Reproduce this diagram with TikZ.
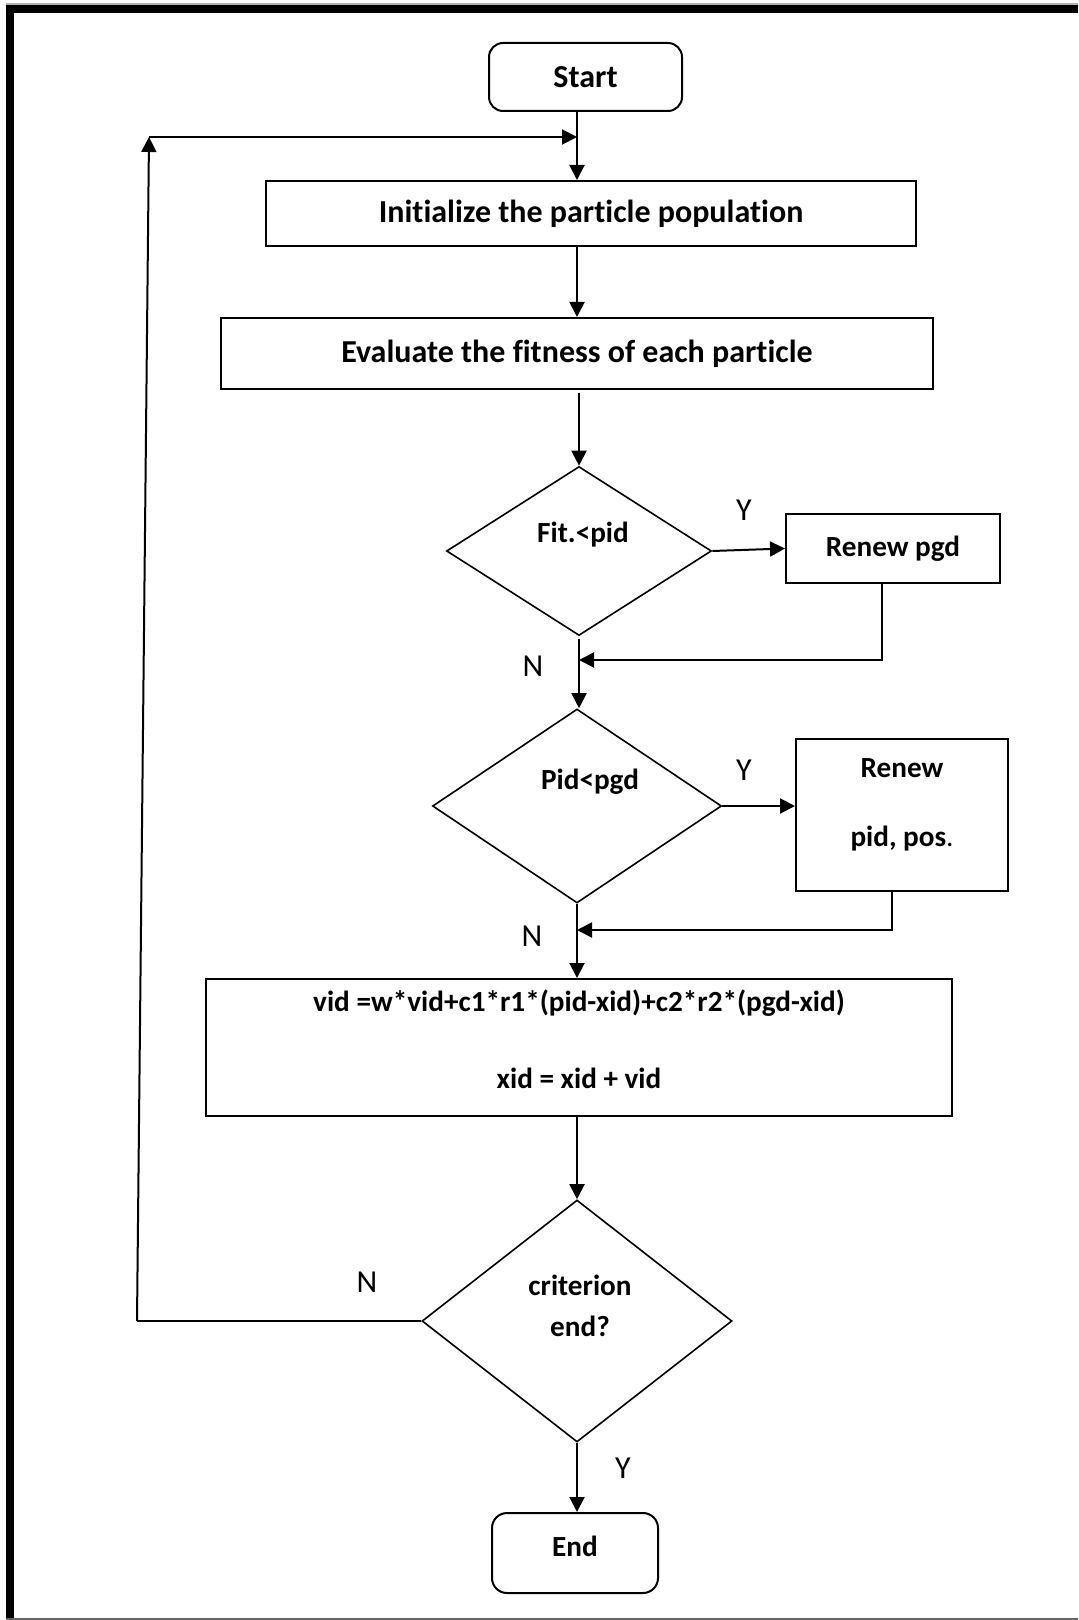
\documentclass[tikz,border=0pt]{standalone}
\usepackage{fontspec}
\setmainfont{Carlito}[Ligatures={NoCommon,NoContextual}]
\usetikzlibrary{arrows.meta,shapes.geometric}

\tikzset{
  txt/.style={font=\bfseries\fontsize{16pt}{19.2pt}\selectfont},
  txtsmall/.style={font=\bfseries\fontsize{14.6pt}{17.4pt}\selectfont},
  yn/.style={font=\fontsize{16pt}{19.2pt}\selectfont},
  box/.style={draw, line width=1pt, inner sep=0pt, txt},
  roundbox/.style={box, rounded corners=7pt},
  decision/.style={draw, diamond, line width=0.8pt, inner sep=0pt},
  line/.style={line width=1pt},
  arr/.style={line width=1pt, -{Triangle[length=7.5pt,width=7.5pt]}},
}

\begin{document}
\begin{tikzpicture}[x=0.5pt, y=-0.5pt]
    \useasboundingbox (0,0) rectangle (1078,1620);

    % frame
    \draw[black!30, line width=1pt] (6,4) -- (1078,4);
    \draw[black!60, line width=1.2pt] (6,1619) -- (1078,1619);
    \draw[line width=4pt] (10,1618) -- (10,9) -- (1078,9);

    % main column
    \node[roundbox, minimum width=96.5pt, minimum height=34pt] (start) at (585.5,77) {Start};
    \node[box, minimum width=325pt, minimum height=32.5pt] (init) at (591,213.5) {Initialize the particle population};
    \node[box, minimum width=356pt, minimum height=35.5pt] (eval) at (577,353.5) {Evaluate the fitness of each particle};
    \node[decision, minimum width=132.5pt, minimum height=84.5pt,
          label={[txtsmall, name=fit-t, xshift=2pt, yshift=8pt]center:{Fit.<pid}}] (fit) at (579,551) {};
    \node[decision, minimum width=144.5pt, minimum height=97pt,
          label={[txtsmall, name=pid-t, xshift=6.5pt, yshift=12pt]center:{Pid<pgd}}] (pid) at (577,806) {};
    \node[box, minimum width=373pt, minimum height=68.5pt,
          label={[txtsmall, name=update-t, align=center, yshift=4pt]center:{vid =w*vid+c1*r1*(pid-xid)+c2*r2*(pgd-xid)\\[21.1pt]xid = xid + vid}}] (update) at (579,1047.5) {};
    \node[decision, minimum width=155pt, minimum height=121pt,
          label={[txtsmall, name=crit-t, align=center, xshift=1.5pt, yshift=7.5pt]center:{criterion\\[3.1pt]end?}}] (crit) at (577,1321) {};
    \node[roundbox, rounded corners=7.5pt, minimum width=83pt, minimum height=40pt,
          label={[txtsmall, name=end-t, yshift=3.5pt]center:{End}}] (end) at (575,1553) {};

    % side boxes
    \node[box, txtsmall, minimum width=107pt, minimum height=34.5pt] (renewpgd) at (893,548.5) {Renew pgd};
    \node[box, minimum width=106pt, minimum height=76pt,
          label={[txtsmall, name=renewpid-t, align=center, yshift=5.25pt]center:{Renew\\[17.1pt]pid, pos\textmd{.}}}] (renewpid) at (902,815) {};

    % junctions
    \coordinate (join) at (577,137);
    \coordinate (looptop) at (149,137);
    \coordinate (loopbot) at (137,1321);
    \coordinate (back1) at (579,660);
    \coordinate (back2) at (577,930);

    % flow
    \draw[arr] (start.south -| join) -- (init.north -| join);
    \draw[arr] (init.south -| join) -- (eval.north -| join);
    \draw[arr] ([yshift=-1.5pt]eval.south -| fit.north) -- (fit.north);
    \draw[arr] ([yshift=-1.5pt]fit.south) -- (fit.south |- pid.north);
    \draw[arr] (pid.south) -- (pid.south |- update.north);
    \draw[arr] (update.south -| crit.north) -- (crit.north);
    \draw[arr] (crit.south) -- (crit.south |- end.north);

    % branches
    \draw[arr] (fit.east) -- (renewpgd.west);
    \draw[arr] (pid.east) -- (renewpid.west |- pid.east);
    \draw[arr] ([xshift=-5.5pt]renewpgd.south) |- (back1);
    \draw[arr] ([xshift=-5pt]renewpid.south) |- (back2);

    % loop back
    \draw[line] (crit.west) -- (loopbot);
    \draw[arr] (loopbot) -- (looptop);
    \draw[arr] (looptop) -- (join);

    % branch labels
    \node[yn] (y1) at (744,510) {Y};
    \node[yn] (n1) at (533,666) {N};
    \node[yn] (y2) at (744,770) {Y};
    \node[yn] (n2) at (532,936) {N};
    \node[yn] (n3) at (367,1282) {N};
    \node[yn] (y3) at (623,1468) {Y};
\end{tikzpicture}
\end{document}
